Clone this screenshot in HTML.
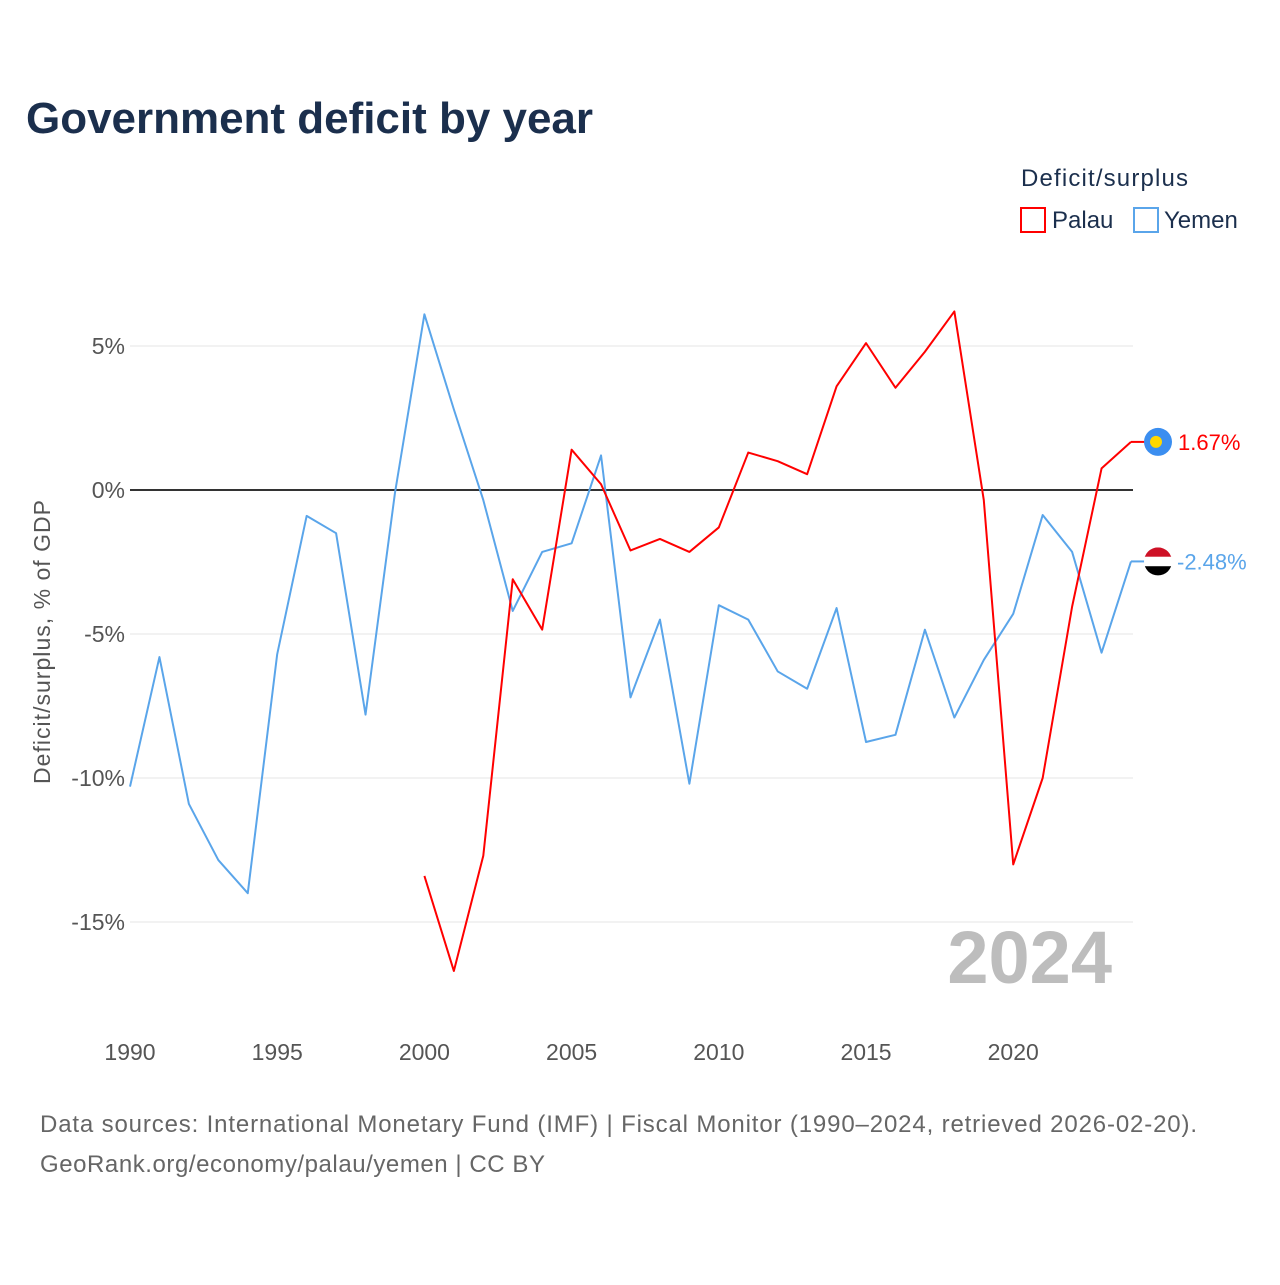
<!DOCTYPE html>
<html><head><meta charset="utf-8"><style>
body{margin:0;background:#fff;font-family:"Liberation Sans",sans-serif;}
svg text{font-family:"Liberation Sans",sans-serif;}
</style></head><body>
<svg width="1280" height="1280" viewBox="0 0 1280 1280">
<text x="26" y="133" font-size="44" font-weight="bold" fill="#1b2f4d" textLength="567">Government deficit by year</text>
<text x="1021" y="186" font-size="24" fill="#1b2f4d" textLength="167">Deficit/surplus</text>
<g><rect x="1021" y="208" width="24" height="24" fill="none" stroke="red" stroke-width="2"/><text x="1052" y="228" font-size="24" fill="#1b2f4d">Palau</text></g>
<g><rect x="1134" y="208" width="24" height="24" fill="none" stroke="#5aa5ea" stroke-width="2"/><text x="1164" y="228" font-size="24" fill="#1b2f4d">Yemen</text></g>
<g id="grid"></g>
<g id="series"></g>
<text x="1112" y="983" font-size="74" font-weight="bold" fill="#bdbdbd" text-anchor="end">2024</text>
<text transform="translate(50,642) rotate(-90)" font-size="23" fill="#555" text-anchor="middle" textLength="284">Deficit/surplus, % of GDP</text>
<text x="40" y="1132" font-size="24" fill="#666" textLength="1157">Data sources: International Monetary Fund (IMF) | Fiscal Monitor (1990–2024, retrieved 2026-02-20).</text>
<text x="40" y="1172" font-size="24" fill="#666" textLength="505">GeoRank.org/economy/palau/yemen | CC BY</text>
</svg>
<script>
const yemenYears=[1990,1991,1992,1993,1994,1995,1996,1997,1998,1999,2000,2001,2002,2003,2004,2005,2006,2007,2008,2009,2010,2011,2012,2013,2014,2015,2016,2017,2018,2019,2020,2021,2022,2023,2024];
const yemenValues=[-10.3,-5.8,-10.9,-12.85,-14.0,-5.7,-0.9,-1.5,-7.8,-0.1,6.1,2.8,-0.35,-4.2,-2.15,-1.85,1.2,-7.2,-4.5,-10.2,-4.0,-4.5,-6.3,-6.9,-4.1,-8.75,-8.5,-4.85,-7.9,-5.9,-4.3,-0.87,-2.15,-5.65,-2.48];
const palauYears=[2000,2001,2002,2003,2004,2005,2006,2007,2008,2009,2010,2011,2012,2013,2014,2015,2016,2017,2018,2019,2020,2021,2022,2023,2024];
const palauValues=[-13.4,-16.7,-12.7,-3.1,-4.85,1.4,0.2,-2.1,-1.7,-2.15,-1.3,1.3,1.0,0.55,3.6,5.1,3.55,4.8,6.2,-0.35,-13.0,-10.0,-4.05,0.75,1.67];
const yTicks=[5,0,-5,-10,-15];
const xTicks=[1990,1995,2000,2005,2010,2015,2020];
const NS="http://www.w3.org/2000/svg";
const X=y=>130+(y-1990)*(1001/34);
const Y=v=>490-v*28.8;
function mk(t,a,p){const e=document.createElementNS(NS,t);for(const k in a)e.setAttribute(k,a[k]);p.appendChild(e);return e;}
const grid=document.getElementById('grid'),ser=document.getElementById('series');
yTicks.forEach(v=>{
  const l=mk('line',{x1:130,x2:1133,y1:Y(v),y2:Y(v),stroke:v===0?'#333':'#e6e6e6','stroke-width':v===0?2:1},grid);
  
  
  const t=mk('text',{x:125,y:Y(v)+8,'font-size':23,fill:'#555','text-anchor':'end'},grid);
  t.textContent=v+'%';
  
  
});
xTicks.forEach(y=>{
  const t=mk('text',{x:X(y),y:1060,'font-size':23,fill:'#555','text-anchor':'middle'},grid);
  t.textContent=y;
  
  
});
function line(years,vals,color,name){
  const p=mk('polyline',{points:years.map((y,i)=>X(y)+','+Y(vals[i])).join(' '),fill:'none',stroke:color,'stroke-width':2,'stroke-linejoin':'round'},ser);
  
  
}
line(yemenYears,yemenValues,'#5aa5ea','yemen-line');
line(palauYears,palauValues,'red','palau-line');
const pv=palauValues[palauValues.length-1],yv=yemenValues[yemenValues.length-1];
mk('line',{x1:1131,x2:1145,y1:Y(pv),y2:Y(pv),stroke:'red','stroke-width':2},ser);
mk('line',{x1:1131,x2:1145,y1:Y(yv),y2:Y(yv),stroke:'#5aa5ea','stroke-width':2},ser);
const pf=mk('g',{},ser);


mk('circle',{cx:1158,cy:Y(pv),r:14,fill:'#3b8ef0'},pf);
mk('circle',{cx:1156,cy:Y(pv),r:6,fill:'#ffd700'},pf);
const yf=mk('g',{},ser);


mk('clipPath',{id:'yc'},yf);
mk('circle',{cx:1158,cy:Y(yv),r:14},document.getElementById('yc'));
mk('rect',{x:1144,y:Y(yv)-14,width:28,height:9.4,fill:'#ce1126','clip-path':'url(#yc)'},yf);
mk('rect',{x:1144,y:Y(yv)-4.6,width:28,height:9.4,fill:'#fff','clip-path':'url(#yc)'},yf);
mk('rect',{x:1144,y:Y(yv)+4.8,width:28,height:9.4,fill:'#000','clip-path':'url(#yc)'},yf);
const pl=mk('text',{x:1178,y:Y(pv)+8,'font-size':22,fill:'red'},ser);
pl.textContent=pv.toFixed(2)+'%';


const yl=mk('text',{x:1177,y:Y(yv)+8,'font-size':22,fill:'#5aa5ea'},ser);
yl.textContent=yv.toFixed(2)+'%';


</script>
</body></html>
